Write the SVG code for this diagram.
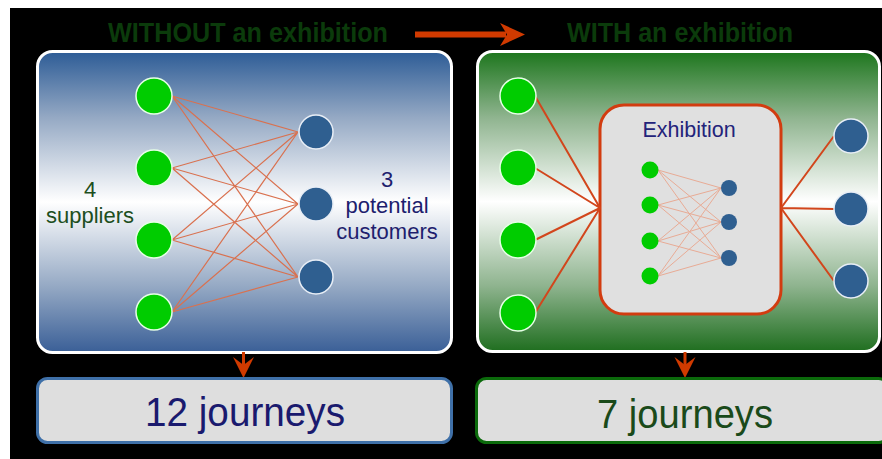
<svg xmlns="http://www.w3.org/2000/svg" width="882" height="459" viewBox="0 0 882 459">
<defs>
<linearGradient id="gBlue" x1="0" y1="0" x2="0" y2="1">
<stop offset="0" stop-color="#2d5c96"/>
<stop offset="0.22" stop-color="#95a9c4"/>
<stop offset="0.5" stop-color="#ffffff"/>
<stop offset="0.78" stop-color="#95a9c4"/>
<stop offset="1" stop-color="#3a5f97"/>
</linearGradient>
<linearGradient id="gGreen" x1="0" y1="0" x2="0" y2="1">
<stop offset="0" stop-color="#1d761d"/>
<stop offset="0.22" stop-color="#8fb48f"/>
<stop offset="0.5" stop-color="#ffffff"/>
<stop offset="0.78" stop-color="#8fb48f"/>
<stop offset="1" stop-color="#1f6e1f"/>
</linearGradient>
</defs>
<style>
.sup{fill:#00cc00;stroke:#e6ffe6;stroke-width:1.5}
.cus{fill:#2f5f90;stroke:#e8eef6;stroke-width:1.5}
.ssup{fill:#00cc00}
.scus{fill:#2f5f90}
.l1{stroke:#d9714f;stroke-width:1.2;fill:none}
.l2{stroke:#d2461c;stroke-width:2;fill:none}
.l3{stroke:#e8ab95;stroke-width:1;fill:none}
.arr{fill:#d03a00}
.title{font-family:"Liberation Sans",Arial,sans-serif;font-weight:bold;font-size:27px;fill:#0b3b0b}
.lbl{font-family:"Liberation Sans",Arial,sans-serif;font-size:22px;text-anchor:middle}
.big{font-family:"Liberation Sans",Arial,sans-serif;font-size:40px;text-anchor:middle}
</style>
<rect x="0" y="0" width="882" height="459" fill="#000"/>
<rect x="0" y="0" width="882" height="8" fill="#fff"/>
<rect x="0" y="0" width="10" height="459" fill="#fff"/>

<g id="title-without"><text class="title" x="108" y="42" textLength="280" lengthAdjust="spacingAndGlyphs">WITHOUT an exhibition</text></g>
<g id="title-with"><text class="title" x="567" y="42" textLength="226" lengthAdjust="spacingAndGlyphs">WITH an exhibition</text></g>

<g id="panel-without">
<rect x="37.5" y="51.5" width="414" height="301" rx="15" fill="url(#gBlue)" stroke="#ffffff" stroke-width="3"/>
<text class="lbl" x="90" y="197" fill="#1d4f1d">4</text>
<text class="lbl" x="90" y="223" fill="#1d4f1d">suppliers</text>
<text class="lbl" x="387" y="187" fill="#1e1e6e">3</text>
<text class="lbl" x="387" y="213" fill="#1e1e6e">potential</text>
<text class="lbl" x="387" y="239" fill="#1e1e6e">customers</text>
</g>
<g id="panel-with">
<rect x="477.5" y="51.5" width="402" height="300" rx="15" fill="url(#gGreen)" stroke="#ffffff" stroke-width="3"/>
</g>
<g id="exhibition">
<rect x="600" y="105" width="181" height="209" rx="24" fill="#e0e0e0" stroke="#d23c10" stroke-width="3"/>
<text class="lbl" x="689" y="137" fill="#23237a" style="font-size:21.5px">Exhibition</text>
</g>

<g id="connectors">
<path class="l1" d="M172,96 L298,132 M172,96 L298,204 M172,96 L298,277 M172,168 L298,132 M172,168 L298,204 M172,168 L298,277 M172,240 L298,132 M172,240 L298,204 M172,240 L298,277 M172,312 L298,132 M172,312 L298,204 M172,312 L298,277"/>
<path class="l2" d="M535,96 L600,208 M535,168 L600,208 M535,240 L600,208 M535,313 L600,208 M781,208 L834,136 M781,208 L834,209 M781,208 L834,281"/>
<path class="l3" d="M658,170 L721,188 M658,170 L721,222 M658,170 L721,258 M658,205 L721,188 M658,205 L721,222 M658,205 L721,258 M658,241 L721,188 M658,241 L721,222 M658,241 L721,258 M658,276 L721,188 M658,276 L721,222 M658,276 L721,258"/>
<line x1="415" y1="34.5" x2="506" y2="34.5" stroke="#d03a00" stroke-width="6"/>
<path class="arr" d="M500,23 L525,34.5 L500,46 L507,34.5 Z"/>
<line x1="243.5" y1="352" x2="243.5" y2="368" stroke="#d03a00" stroke-width="3"/>
<path class="arr" d="M233,357 L243.5,378 L254,357 L243.5,365 Z"/>
<line x1="685" y1="352" x2="685" y2="368" stroke="#d03a00" stroke-width="3"/>
<path class="arr" d="M674.5,357 L685,378 L695.5,357 L685,365 Z"/>
</g>

<g id="supplier-1"><circle class="sup" cx="154" cy="96" r="18"/></g>
<g id="supplier-2"><circle class="sup" cx="154" cy="168" r="18"/></g>
<g id="supplier-3"><circle class="sup" cx="154" cy="240" r="18"/></g>
<g id="supplier-4"><circle class="sup" cx="154" cy="312" r="18"/></g>
<g id="customer-1"><circle class="cus" cx="316" cy="132" r="17"/></g>
<g id="customer-2"><circle class="cus" cx="316" cy="204" r="17"/></g>
<g id="customer-3"><circle class="cus" cx="316" cy="277" r="17"/></g>

<g id="w-supplier-1"><circle class="sup" cx="518" cy="96" r="18"/></g>
<g id="w-supplier-2"><circle class="sup" cx="518" cy="168" r="18"/></g>
<g id="w-supplier-3"><circle class="sup" cx="518" cy="240" r="18"/></g>
<g id="w-supplier-4"><circle class="sup" cx="518" cy="313" r="18"/></g>
<g id="w-customer-1"><circle class="cus" cx="851" cy="136" r="17"/></g>
<g id="w-customer-2"><circle class="cus" cx="851" cy="209" r="17"/></g>
<g id="w-customer-3"><circle class="cus" cx="851" cy="281" r="17"/></g>

<g id="e-supplier-1"><circle class="ssup" cx="650" cy="170" r="8.5"/></g>
<g id="e-supplier-2"><circle class="ssup" cx="650" cy="205" r="8.5"/></g>
<g id="e-supplier-3"><circle class="ssup" cx="650" cy="241" r="8.5"/></g>
<g id="e-supplier-4"><circle class="ssup" cx="650" cy="276" r="8.5"/></g>
<g id="e-customer-1"><circle class="scus" cx="729" cy="188" r="8"/></g>
<g id="e-customer-2"><circle class="scus" cx="729" cy="222" r="8"/></g>
<g id="e-customer-3"><circle class="scus" cx="729" cy="258" r="8"/></g>

<g id="result-without">
<rect x="37.5" y="378.5" width="414" height="64" rx="10" fill="#dedede" stroke="#3f70a8" stroke-width="3"/>
<text class="big" x="245" y="426" fill="#1a1a6e" textLength="200" lengthAdjust="spacingAndGlyphs">12 journeys</text>
</g>
<g id="result-with">
<rect x="476.5" y="378.5" width="412" height="64" rx="10" fill="#dedede" stroke="#0b6a0b" stroke-width="3"/>
<text class="big" x="685" y="428" fill="#1a4a1a" textLength="176" lengthAdjust="spacingAndGlyphs">7 journeys</text>
</g>
</svg>
